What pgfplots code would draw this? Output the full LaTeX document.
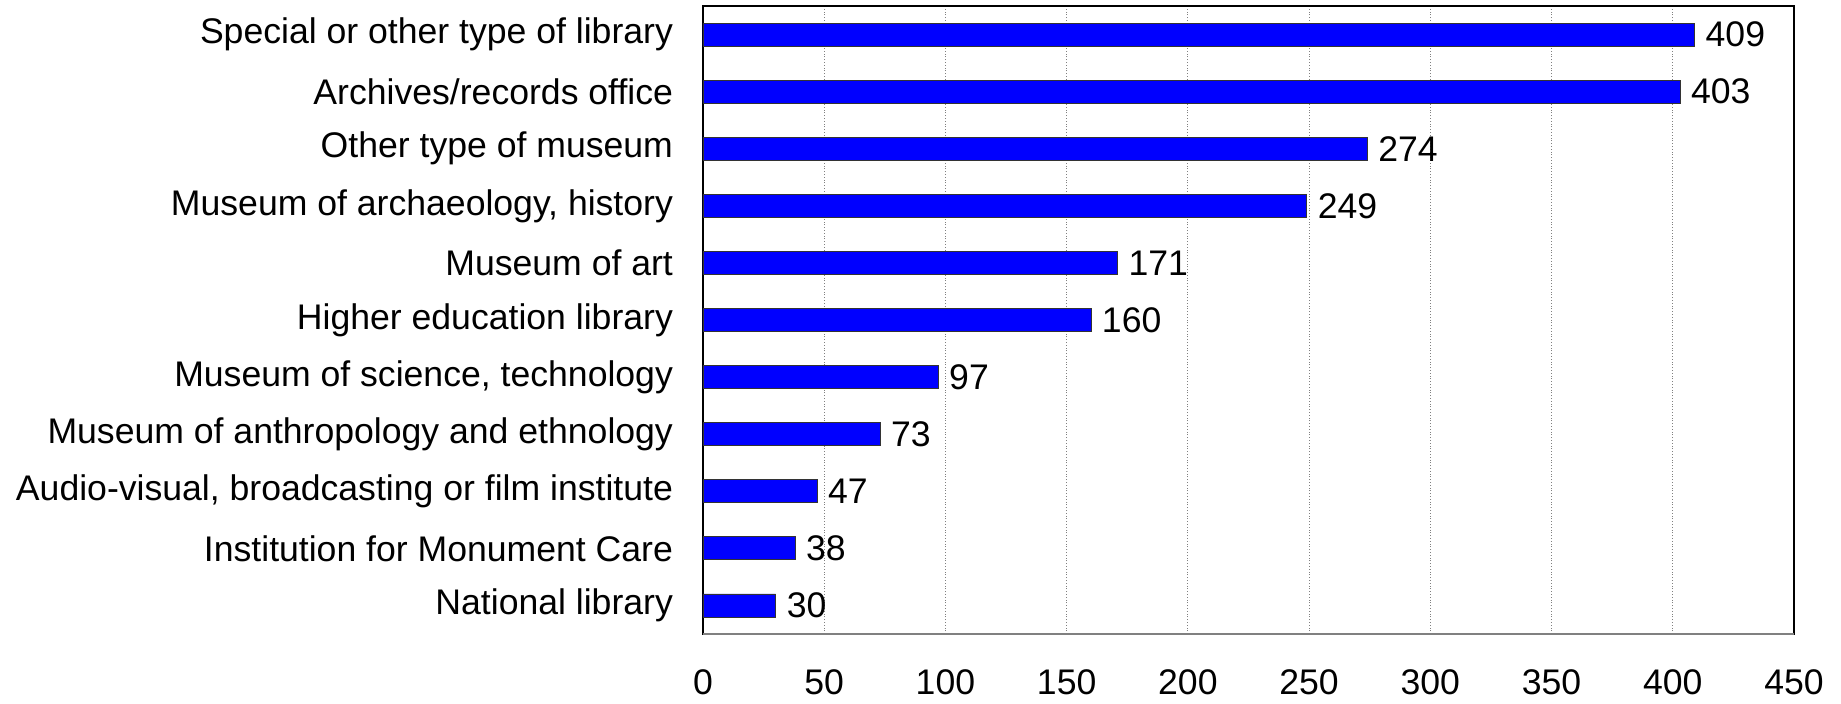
\documentclass[border=0pt]{standalone}
\usepackage{fontspec}
\setmainfont{Liberation Sans}
\usepackage{pgfplots}
\pgfplotsset{compat=1.18}
\begin{document}
\begin{tikzpicture}
\useasboundingbox (-351.5pt,-34.5pt) rectangle (569pt,317pt);
\begin{axis}[
    at={(0,0)}, anchor=south west,
    scale only axis,
    width=545.5pt, height=314pt,
    xbar,
    bar width=11.5pt,
    xmin=0, xmax=450,
    ymin=-0.5, ymax=10.5,
    xtick={0,50,...,450},
    ytick={0,...,10},
    yticklabels={National library, Institution for Monument Care, {Audio-visual, broadcasting or film institute}, Museum of anthropology and ethnology, {Museum of science, technology}, Higher education library, Museum of art, {Museum of archaeology, history}, Other type of museum, Archives/records office, Special or other type of library},
    major tick length=0pt,
    xmajorgrids,
    grid style={gray, densely dotted, line width=0.5pt},
    axis line style={black, line width=0.8pt},
    tick label style={font=\fontsize{17.8}{21}\selectfont},
    /pgf/number format/assume math mode=true,
    xticklabel style={yshift=-14.5pt},
    yticklabel style={xshift=-11.5pt},
    nodes near coords,
    every node near coord/.append style={font=\fontsize{17.8}{21}\selectfont, xshift=2pt},
]
\addplot[fill={rgb,255:red,0;green,0;blue,255}, draw=black!80, line width=0.4pt] coordinates {
    (30,0) (38,1) (47,2) (73,3) (97,4) (160,5) (171,6) (249,7) (274,8) (403,9) (409,10)
};
\draw[gray, line width=1pt] (rel axis cs:0,0) -- (rel axis cs:1,0);
\end{axis}
\end{tikzpicture}
\end{document}
